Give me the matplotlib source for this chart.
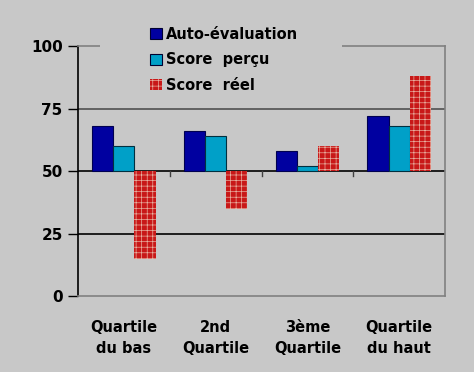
import matplotlib
matplotlib.use("Agg")
import matplotlib.pyplot as plt
from matplotlib.patches import Patch, Rectangle
import numpy as np

categories = ["Quartile\ndu bas", "2nd\nQuartile", "3ème\nQuartile", "Quartile\ndu haut"]
series_names = ["Auto-évaluation", "Score  perçu", "Score  réel"]
auto_eval = [68, 66, 58, 72]
score_percu = [60, 64, 52, 68]
score_reel = [15, 35, 60, 88]
y_ticks = [0, 25, 50, 75, 100]
baseline = 50

bg = "#c8c8c8"
plt.rcParams['font.family'] = ['DejaVu Sans']
plt.rcParams['hatch.linewidth'] = 0.5
fig = plt.figure(figsize=(4.74, 3.72), dpi=100, facecolor=bg)
ax = fig.add_axes([0.1646, 0.2043, 0.7742, 0.672], facecolor=bg)

x = np.arange(len(categories))
w = 0.23
series = [auto_eval, score_percu, score_reel]
styles = [
    dict(color="#0000a0", edgecolor="#000050", linewidth=0.8),
    dict(color="#00a0c8", edgecolor="#003040", linewidth=0.8),
    dict(color="#c81818", edgecolor="#e8b0a0", linewidth=0, hatch="+++"),
]
for i, (vals, st) in enumerate(zip(series, styles)):
    v = np.array(vals, dtype=float)
    ax.bar(x + (i - 1) * w, v - baseline, bottom=baseline, width=w, zorder=3, **st)

ax.set_xlim(-0.5, len(categories) - 0.5)
ax.set_ylim(0, 100)
ax.set_yticks(y_ticks)
ax.set_yticklabels([str(t) for t in y_ticks], fontsize=11, fontweight='semibold')
for t in [25, 50]:
    ax.axhline(t, color="black", lw=1.2, zorder=2)
ax.axhline(75, color="#505050", lw=1.2, zorder=2)

ax.set_xticks(x)
ax.set_xticklabels(categories, fontsize=10.5, fontweight='semibold', linespacing=1.5)
ax.tick_params(axis='x', length=0, pad=17)
ax.tick_params(axis='y', length=7, width=1, pad=4, color='black')
for b in np.arange(0.5, len(categories) - 0.5, 1):
    ax.plot([b, b], [baseline, baseline - 2], color="#404040", lw=1, zorder=4)

for s in ["top", "right", "bottom"]:
    ax.spines[s].set_color("#808080")
    ax.spines[s].set_linewidth(1.2)
ax.spines["left"].set_color("black")
ax.spines["left"].set_linewidth(1.2)

# legend background block hiding part of the top border
fig.add_artist(Rectangle((100 / 474, 1 - 52 / 372), 242 / 474, 12 / 372,
                         transform=fig.transFigure, facecolor=bg, edgecolor="none", zorder=5))

handles = [Patch(facecolor=styles[0]["color"], edgecolor="#000030", linewidth=0.8),
           Patch(facecolor=styles[1]["color"], edgecolor="#000030", linewidth=0.8),
           Patch(facecolor=styles[2]["color"], edgecolor="#e8b0a0", linewidth=0, hatch="+++")]
leg = fig.legend(handles, series_names, loc="upper left", bbox_to_anchor=(0.295, 0.955),
                 frameon=True, facecolor=bg, edgecolor=bg, framealpha=1,
                 prop=dict(size=10.5, weight='semibold'), handlelength=0.8, handleheight=0.8,
                 handletextpad=0.3, labelspacing=0.72, borderpad=0.2)
leg.set_zorder(6)

fig.savefig("out.png", dpi=100, facecolor=bg)
